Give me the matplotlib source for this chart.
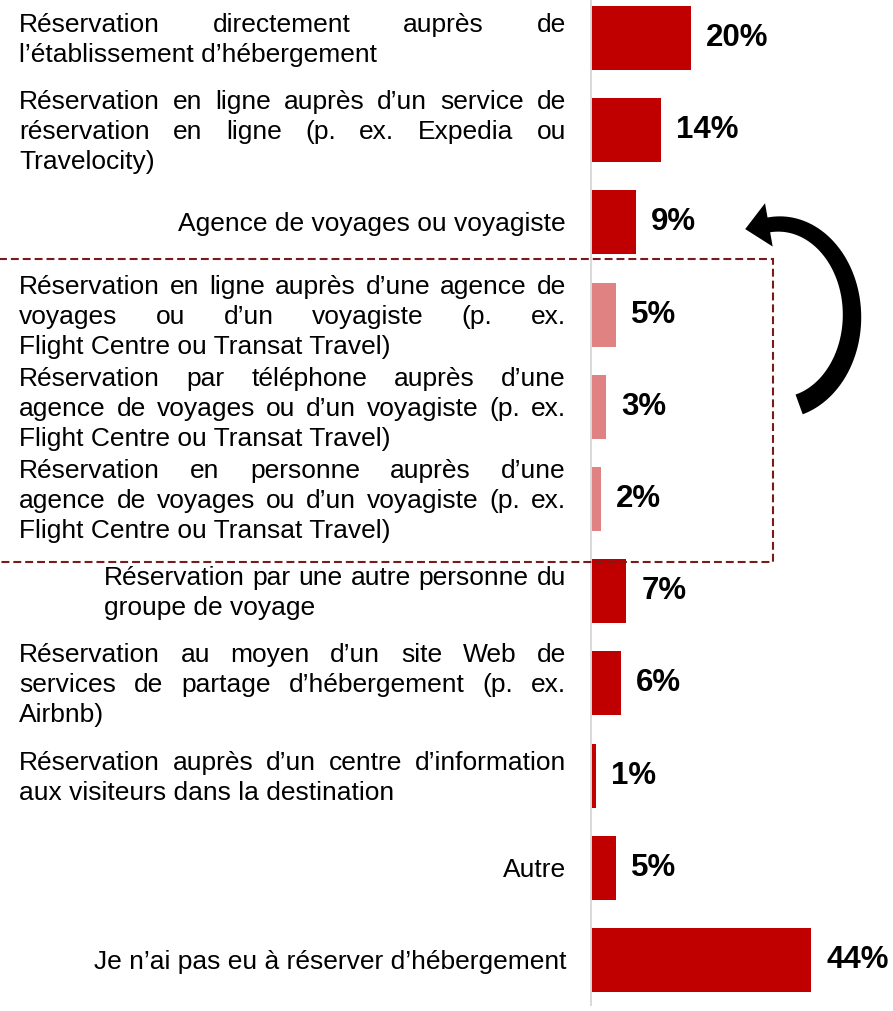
import matplotlib
matplotlib.use('Agg')
import numpy as np
import matplotlib.pyplot as plt
from matplotlib.patches import Rectangle, Polygon
from matplotlib.transforms import Affine2D

# --- data --------------------------------------------------------------
categories = [
    "Réservation directement auprès de\nl’établissement d’hébergement",
    "Réservation en ligne auprès d’un service de\nréservation en ligne (p. ex. Expedia ou\nTravelocity)",
    "Agence de voyages ou voyagiste",
    "Réservation en ligne auprès d’une agence de\nvoyages ou d’un voyagiste (p. ex.\nFlight Centre ou Transat Travel)",
    "Réservation par téléphone auprès d’une\nagence de voyages ou d’un voyagiste (p. ex.\nFlight Centre ou Transat Travel)",
    "Réservation en personne auprès d’une\nagence de voyages ou d’un voyagiste (p. ex.\nFlight Centre ou Transat Travel)",
    "Réservation par une autre personne du\ngroupe de voyage",
    "Réservation au moyen d’un site Web de\nservices de partage d’hébergement (p. ex.\nAirbnb)",
    "Réservation auprès d’un centre d’information\naux visiteurs dans la destination",
    "Autre",
    "Je n’ai pas eu à réserver d’hébergement",
]
values = [20, 14, 9, 5, 3, 2, 7, 6, 1, 5, 44]
in_group = [False, False, False, True, True, True, False, False, False, False, False]

# layout (pixels of the final image, y down)
W, H = 893, 1011
AX_X = 591          # position of the vertical axis line
ROW0, ROW_STEP = 38, 92.2
PX_PER_PCT = 5.0
TXT_L, TXT_R = 19, 566
LINE_H, BASE_OFF = 30, 9

DARK = '#C00000'
LIGHT = '#E08282'

plt.rcParams['font.family'] = ['Liberation Sans', 'DejaVu Sans']

fig = plt.figure(figsize=(W / 100, H / 100), dpi=100)
pix = Affine2D().scale(1, -1).translate(0, H)   # image pixels -> display

# --- bars --------------------------------------------------------------
ax_bottom = 1005
ax = fig.add_axes([AX_X / W, (H - ax_bottom) / H, (W - AX_X) / W, ax_bottom / H])
rows = list(range(len(values)))
colors = [LIGHT if g else DARK for g in in_group]
ax.barh(rows, values, height=64 / ROW_STEP, color=colors, edgecolor='none')
ax.set_xlim(0, (W - AX_X) / PX_PER_PCT)
ax.set_ylim((ax_bottom - ROW0) / ROW_STEP, -ROW0 / ROW_STEP)
ax.set_xticks([])
ax.set_yticks([])
for s in ['top', 'right', 'bottom']:
    ax.spines[s].set_visible(False)
ax.spines['left'].set_color('#D9D9D9')
ax.spines['left'].set_linewidth(1.4)
ax.patch.set_alpha(0)

for i, v in enumerate(values):
    ax.annotate(f"{v}%", (v, i), xytext=(11, 0), textcoords='offset points',
                ha='left', va='center', fontsize=22.5, fontweight='bold', color='black')

# --- category labels (justified like the source document) --------------
renderer = fig.canvas.get_renderer()
align = ['j', 'j', 'r', 'j', 'j', 'j', 'j', 'j', 'j', 'r', 'r']
left_edge = [TXT_L] * len(categories)
left_edge[6] = 104
txt_kw = dict(fontsize=19, color='black', va='baseline', transform=pix)

for i, label in enumerate(categories):
    yc = ROW0 + i * ROW_STEP
    lines = label.split('\n')
    n = len(lines)
    for k, line in enumerate(lines):
        y = yc + (k - (n - 1) / 2) * LINE_H + BASE_OFF
        if align[i] == 'r':
            fig.text(TXT_R, y, line, ha='right', **txt_kw)
            continue
        words = line.split(' ')
        if k == n - 1 or len(words) == 1:
            fig.text(left_edge[i], y, line, ha='left', **txt_kw)
            continue
        texts = [fig.text(0, y, w, ha='left', **txt_kw) for w in words]
        widths = [t.get_window_extent(renderer).width for t in texts]
        gap = max((TXT_R - left_edge[i] - sum(widths)) / (len(words) - 1), 4)
        x = TXT_R - sum(widths) - gap * (len(words) - 1)
        for t, wd in zip(texts, widths):
            t.set_x(x)
            x += wd + gap

# --- dashed box around the travel-agency rows --------------------------
box = Rectangle((-5, 259), 778, 303, transform=pix, fill=False,
                edgecolor='#7B1A1A', linewidth=1.5, linestyle=(0, (3.8, 1.9)))
fig.add_artist(box)

# --- curved arrow (tapered band along an elliptical arc + head) --------
cx, cy, ra, rb = 779, 316, 73, 92
th = np.radians(np.linspace(-74, 98, 90))
mx = cx + ra * np.cos(th)
my = cy - rb * np.sin(th)
tx, ty = -ra * np.sin(th), -rb * np.cos(th)
tn = np.hypot(tx, ty)
tx, ty = tx / tn, ty / tn
nx, ny = -ty, tx
wid = np.linspace(21, 15, len(th)) / 2
outer = np.column_stack([mx + nx * wid, my + ny * wid])
inner = np.column_stack([mx - nx * wid, my - ny * wid])
p = np.array([mx[-1], my[-1]])
t_end = np.array([tx[-1], ty[-1]])
n_end = np.array([nx[-1], ny[-1]])
head = np.array([p + n_end * 22, p + t_end * 24, p - n_end * 22])
arrow = Polygon(np.vstack([outer, head, inner[::-1]]), closed=True,
                transform=pix, facecolor='black', edgecolor='none')
fig.add_artist(arrow)

fig.savefig('out.png', dpi=100)
